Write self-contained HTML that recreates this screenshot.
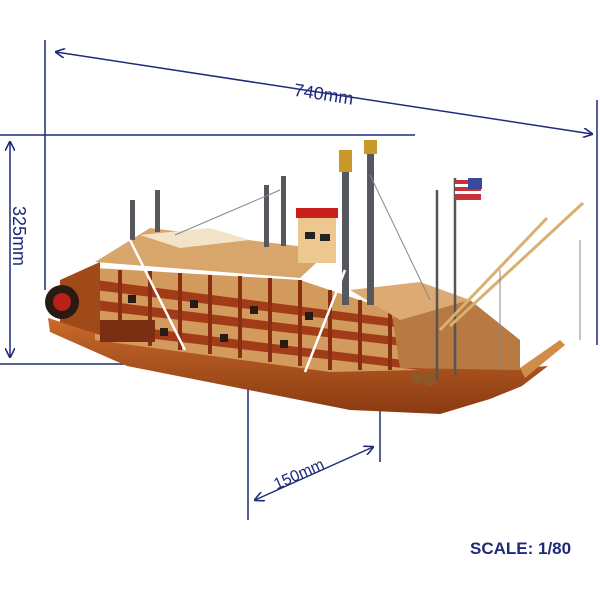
<!DOCTYPE html>
<html><head><meta charset="utf-8"><style>
html,body{margin:0;padding:0;background:#fff;width:600px;height:600px;overflow:hidden}
</style></head><body>
<svg width="600" height="600" viewBox="0 0 600 600" xmlns="http://www.w3.org/2000/svg">
<defs>
<marker id="a" markerWidth="10" markerHeight="10" refX="9" refY="5" orient="auto-start-reverse" markerUnits="userSpaceOnUse">
<path d="M0,0 L10,5 L0,10" fill="none" stroke="#1f2a7a" stroke-width="1.6"/></marker>
<linearGradient id="h" x1="0" y1="0" x2="0" y2="1"><stop offset="0" stop-color="#c86a2a"/><stop offset="1" stop-color="#8a3a12"/></linearGradient>
</defs>
<g stroke="#1f2a7a" stroke-width="1.5" fill="none">
<line x1="45" y1="40" x2="45" y2="290"/>
<line x1="0" y1="135" x2="415" y2="135"/>
<line x1="0" y1="364" x2="130" y2="364"/>
<line x1="10" y1="142" x2="10" y2="357" marker-start="url(#a)" marker-end="url(#a)"/>
<line x1="56" y1="52" x2="592" y2="134" marker-start="url(#a)" marker-end="url(#a)"/>
<line x1="597" y1="100" x2="597" y2="345"/>
<line x1="248" y1="380" x2="248" y2="520"/>
<line x1="380" y1="410" x2="380" y2="462"/>
<line x1="255" y1="500" x2="373" y2="447" marker-start="url(#a)" marker-end="url(#a)"/>
</g>
<g font-family="Liberation Sans, sans-serif" fill="#1f2a7a" font-size="18">
<text x="294" y="96" transform="rotate(8.7 296 90)">740mm</text>
<text x="13" y="206" transform="rotate(90 13 206)">325mm</text>
<text x="276" y="489" font-size="16" transform="rotate(-24 278 488)">150mm</text>
<text x="470" y="554" font-weight="bold" font-size="17">SCALE: 1/80</text>
</g>
<g>
<polygon points="48,318 120,340 520,368 548,366 522,386 490,399 440,414 350,410 127,366 50,332" fill="url(#h)"/>
<polygon points="520,368 560,340 565,345 525,378" fill="#d08c48"/>
<polygon points="95,268 300,280 425,322 420,370 330,372 95,340" fill="#d29a5c"/>
<g fill="#a23c18">
<polygon points="95,280 420,322 420,330 95,290"/>
<polygon points="95,300 420,340 420,348 95,310"/>
<polygon points="95,322 420,362 420,370 95,332"/>
</g>
<g stroke="#8a2e12" stroke-width="4">
<line x1="120" y1="270" x2="120" y2="342"/><line x1="150" y1="271" x2="150" y2="346"/>
<line x1="180" y1="273" x2="180" y2="350"/><line x1="210" y1="275" x2="210" y2="354"/>
<line x1="240" y1="276" x2="240" y2="358"/><line x1="270" y1="278" x2="270" y2="362"/>
<line x1="300" y1="280" x2="300" y2="366"/><line x1="330" y1="290" x2="330" y2="370"/>
<line x1="360" y1="300" x2="360" y2="370"/><line x1="390" y1="310" x2="390" y2="370"/>
</g>
<g fill="#2a1a14">
<rect x="128" y="295" width="8" height="8"/><rect x="190" y="300" width="8" height="8"/><rect x="250" y="306" width="8" height="8"/><rect x="305" y="312" width="8" height="8"/>
<rect x="160" y="328" width="8" height="8"/><rect x="220" y="334" width="8" height="8"/><rect x="280" y="340" width="8" height="8"/>
</g>
<polygon points="390,300 470,300 520,340 520,370 400,368" fill="#b87a42"/>
<polygon points="350,290 420,282 470,300 400,320" fill="#dcaa72"/>
<polygon points="60,280 100,262 100,335 60,322" fill="#a04a1a"/>
<polygon points="95,262 150,228 330,250 300,278" fill="#d8a56a"/>
<polygon points="140,235 210,228 250,240 180,248" fill="#f2e4c8"/>
<rect x="100" y="320" width="55" height="22" fill="#7a2e12"/>
<rect x="298" y="215" width="38" height="48" fill="#ecc890"/>
<rect x="296" y="208" width="42" height="10" fill="#c8201a"/>
<rect x="305" y="232" width="10" height="7" fill="#222"/>
<rect x="320" y="234" width="10" height="7" fill="#222"/>
<g fill="#55585c">
<rect x="342" y="170" width="7" height="135"/>
<rect x="367" y="150" width="7" height="155"/>
<rect x="130" y="200" width="5" height="40"/>
<rect x="155" y="190" width="5" height="42"/>
<rect x="264" y="185" width="5" height="62"/>
<rect x="281" y="176" width="5" height="70"/>
</g>
<g fill="#c89a2a"><rect x="339" y="150" width="13" height="22"/><rect x="364" y="140" width="13" height="14"/></g>
<g stroke="#555" stroke-width="2.5"><line x1="437" y1="190" x2="437" y2="380"/><line x1="455" y1="178" x2="455" y2="375"/></g>
<rect x="455" y="180" width="26" height="20" fill="#c8303a"/>
<rect x="455" y="184" width="26" height="3" fill="#fff"/><rect x="455" y="191" width="26" height="3" fill="#fff"/>
<rect x="468" y="178" width="14" height="11" fill="#3a4a9a"/>
<g stroke="#d8b070" stroke-width="3"><line x1="440" y1="330" x2="547" y2="218"/><line x1="450" y1="326" x2="583" y2="203"/></g>
<g stroke="#888" stroke-width="1" fill="none"><line x1="175" y1="235" x2="280" y2="190"/><line x1="370" y1="175" x2="430" y2="300"/><line x1="580" y1="240" x2="580" y2="340"/><line x1="500" y1="270" x2="500" y2="370"/></g>
<g stroke="#fff" stroke-width="2.5"><line x1="130" y1="240" x2="185" y2="350"/><line x1="345" y1="270" x2="305" y2="372"/></g>
<circle cx="418" cy="378" r="6" fill="#8a5a2a"/><circle cx="430" cy="380" r="6" fill="#8a5a2a"/>
<circle cx="62" cy="302" r="17" fill="#2a1a14"/>
<circle cx="62" cy="302" r="9" fill="#b8201a"/>
</g>
</svg>
</body></html>
